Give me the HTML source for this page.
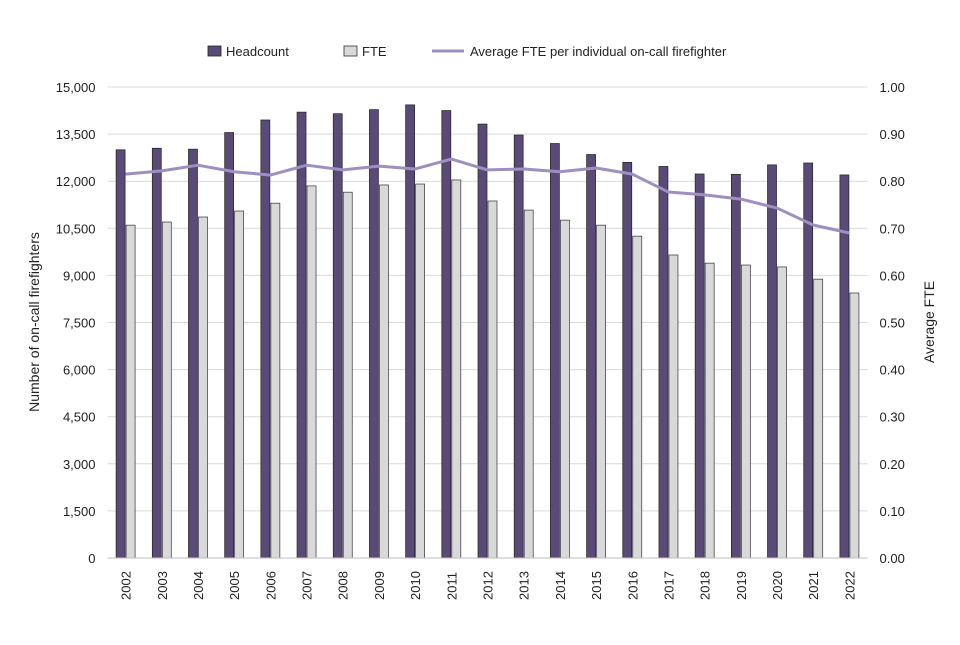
<!DOCTYPE html>
<html><head><meta charset="utf-8"><style>
body{margin:0;background:#fff;}
svg text{font-family:"Liberation Sans",sans-serif;fill:#222;}
</style></head><body>
<svg id="chart" width="960" height="640">
<g>
<rect x="208" y="46" width="13" height="10" fill="#5a4a78" stroke="#222" stroke-width="0.8"/>
<text x="226" y="56" font-size="13">Headcount</text>
<rect x="344" y="46" width="13" height="10" fill="#d9d9d9" stroke="#333" stroke-width="0.8"/>
<text x="362" y="56" font-size="13">FTE</text>
<line x1="432" y1="51" x2="464" y2="51" stroke="#9e8fc0" stroke-width="3"/>
<text x="470" y="56" font-size="13">Average FTE per individual on-call firefighter</text>
</g>
<text transform="translate(39,322) rotate(-90)" text-anchor="middle" font-size="14">Number of on-call firefighters</text>
<text transform="translate(934,322) rotate(-90)" text-anchor="middle" font-size="14">Average FTE</text>
<g id="grid"></g><g id="bars"></g><g id="line"></g><g id="axes"></g>
</svg>
<script>
const years=["2002","2003","2004","2005","2006","2007","2008","2009","2010","2011","2012","2013","2014","2015","2016","2017","2018","2019","2020","2021","2022"];
const headcount=[13000,13050,13020,13550,13950,14200,14150,14280,14430,14250,13820,13470,13200,12850,12600,12470,12230,12220,12520,12580,12200];
const fte=[10600,10700,10860,11050,11300,11850,11650,11880,11910,12040,11370,11080,10760,10600,10250,9650,9390,9330,9270,8880,8440];
const avgFte=[0.815,0.822,0.834,0.82,0.813,0.834,0.824,0.832,0.826,0.847,0.824,0.826,0.82,0.828,0.815,0.777,0.771,0.762,0.743,0.707,0.69];
const leftTicks=[0,1500,3000,4500,6000,7500,9000,10500,12000,13500,15000];
const rightTicks=[0,0.1,0.2,0.3,0.4,0.5,0.6,0.7,0.8,0.9,1.0];
const NS="http://www.w3.org/2000/svg";
const X0=107.5,X1=867.5,Y0=558,Y1=87;
const step=(X1-X0)/years.length;
const xc=i=>X0+step*(i+0.5);
const yL=v=>Y0-(v/15000)*(Y0-Y1);
const yR=v=>Y0-(v/1)*(Y0-Y1);
function mk(t,a,p){const e=document.createElementNS(NS,t);for(const k in a)e.setAttribute(k,a[k]);p.appendChild(e);return e;}
const grid=document.getElementById('grid'),bars=document.getElementById('bars'),line=document.getElementById('line'),axes=document.getElementById('axes');
leftTicks.forEach((v,i)=>{
  const g=mk('line',{x1:X0,x2:X1,y1:yL(v),y2:yL(v),stroke:'#d9d9d9','stroke-width':1},grid);
  
  
  const t=mk('text',{x:X0-12,y:yL(v)+5,'text-anchor':'end','font-size':13},axes);
  t.textContent=v.toLocaleString('en-US');
  
  
});
rightTicks.forEach(v=>{
  const t=mk('text',{x:X1+12,y:yR(v)+5,'font-size':13},axes);
  t.textContent=v.toFixed(2);
  
  
});
const bw=9;
years.forEach((y,i)=>{
  const c=xc(i);
  const h=mk('rect',{x:c-bw-0.5,y:yL(headcount[i]),width:bw,height:Y0-yL(headcount[i]),fill:'#5a4a78',stroke:'#222','stroke-width':0.7},bars);
  
  
  const f=mk('rect',{x:c+0.5,y:yL(fte[i]),width:bw,height:Y0-yL(fte[i]),fill:'#d9d9d9',stroke:'#333','stroke-width':0.7},bars);
  
  
  const t=mk('text',{transform:`translate(${c+5},600) rotate(-90)`,'font-size':13},axes);
  t.textContent=y;
  
  
});
const ax=mk('line',{x1:X0,x2:X1,y1:Y0,y2:Y0,stroke:'#bfbfbf','stroke-width':1},axes);


const pl=mk('polyline',{points:avgFte.map((v,i)=>xc(i)+','+yR(v)).join(' '),fill:'none',stroke:'#9e8fc0','stroke-width':3,'stroke-linejoin':'round'},line);


</script>
</body></html>
